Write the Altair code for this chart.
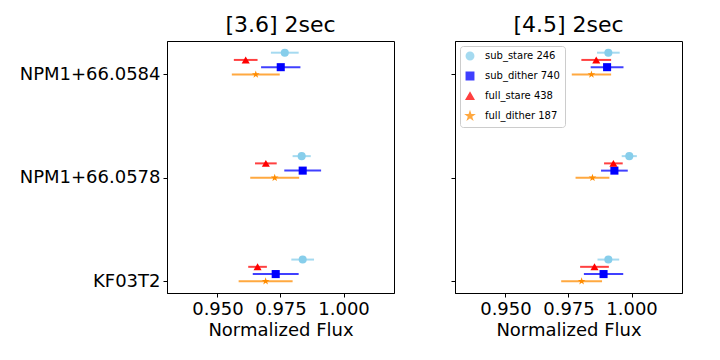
import altair as alt
import pandas as pd

stars = ["KF03T2", "NPM1+66.0578", "NPM1+66.0584"]  # bottom -> top
series = ["full_dither", "sub_dither", "full_stare", "sub_stare"]
counts = {"sub_stare": 246, "sub_dither": 740, "full_stare": 438, "full_dither": 187}
legend_order = ["sub_stare", "sub_dither", "full_stare", "full_dither"]
colors = {"sub_stare": "#87CEEB", "sub_dither": "#0000FF", "full_stare": "#FF0000", "full_dither": "#FF8C00"}
STAR = ("M0,-1L0.225,-0.309L0.951,-0.309L0.363,0.118L0.588,0.809L0,0.382"
        "L-0.588,0.809L-0.363,0.118L-0.951,-0.309L-0.225,-0.309Z")
shapes = {"sub_stare": "circle", "sub_dither": "square", "full_stare": "triangle-up", "full_dither": STAR}

ch1_val = {
    "sub_stare":   [0.9838, 0.9834, 0.9767],
    "full_stare":  [0.9659, 0.9692, 0.9612],
    "sub_dither":  [0.9731, 0.9838, 0.9751],
    "full_dither": [0.9691, 0.9727, 0.9652],
}
ch1_err = {
    "sub_stare":   [0.0045, 0.0036, 0.0055],
    "full_stare":  [0.0037, 0.0043, 0.0047],
    "sub_dither":  [0.0091, 0.0073, 0.0078],
    "full_dither": [0.0107, 0.0097, 0.0095],
}
ch2_val = {
    "sub_stare":   [0.9908, 0.9991, 0.9908],
    "full_stare":  [0.9853, 0.9928, 0.9860],
    "sub_dither":  [0.9889, 0.9932, 0.9903],
    "full_dither": [0.9802, 0.9845, 0.9841],
}
ch2_err = {
    "sub_stare":   [0.0043, 0.0030, 0.0045],
    "full_stare":  [0.0057, 0.0037, 0.0059],
    "sub_dither":  [0.0078, 0.0053, 0.0065],
    "full_dither": [0.0081, 0.0067, 0.0078],
}
dodge = 0.07


def make_df(vals, errs):
    rows = []
    for si, s in enumerate(series):
        for k, st in enumerate(stars):
            v = vals[s][k]
            e = errs[s][k]
            rows.append({
                "star": st, "series": s, "label": f"{s} {counts[s]}",
                "pos": float(k + dodge * si), "flux": float(v),
                "lo": float(v - e), "hi": float(v + e),
            })
    return pd.DataFrame(rows)


label_domain = [f"{s} {counts[s]}" for s in legend_order]
label_expr = "datum.value == 0 ? 'KF03T2' : datum.value == 1 ? 'NPM1+66.0578' : 'NPM1+66.0584'"


def panel(df, title, show_labels, show_legend):
    xscale = alt.Scale(domain=[0.93, 1.02], nice=False, zero=False)
    yscale = alt.Scale(domain=[-0.113, 2.323], nice=False, zero=False)
    cscale = alt.Scale(domain=label_domain, range=[colors[s] for s in legend_order])
    sscale = alt.Scale(domain=label_domain, range=[shapes[s] for s in legend_order])
    if show_legend:
        leg = alt.Legend(title=None, orient="top-left", offset=5)
    else:
        leg = None
    xax = alt.Axis(values=[0.95, 0.975, 1.0], format=".3f")
    yax = alt.Axis(values=[0, 1, 2], labelExpr=label_expr, labels=show_labels)
    bars = alt.Chart(df).mark_rule(strokeWidth=2, opacity=0.75).encode(
        x=alt.X("lo:Q", scale=xscale, axis=xax, title="Normalized Flux"),
        x2="hi:Q",
        y=alt.Y("pos:Q", scale=yscale, axis=yax, title=None),
        color=alt.Color("label:N", scale=cscale, legend=leg),
    )
    pts = alt.Chart(df).mark_point(filled=True, opacity=1, size=65).encode(
        x=alt.X("flux:Q", scale=xscale),
        y=alt.Y("pos:Q", scale=yscale),
        color=alt.Color("label:N", scale=cscale, legend=leg),
        shape=alt.Shape("label:N", scale=sscale, legend=leg),
    )
    return alt.layer(bars, pts).properties(width=227, height=252, title=title)


left = panel(make_df(ch1_val, ch1_err), "[3.6] 2sec", True, False)
right = panel(make_df(ch2_val, ch2_err), "[4.5] 2sec", False, True)

chart = alt.hconcat(left, right, spacing=55).resolve_scale(
    color="independent", shape="independent"
).resolve_legend(
    color="independent", shape="independent"
).configure(
    font="DejaVu Sans", padding={"left": 10, "top": 5, "right": 5, "bottom": 5}
).configure_view(
    stroke="black", strokeWidth=1
).configure_axis(
    grid=False, tickSize=4, labelFontSize=18, titleFontSize=18,
    labelColor="black", titleColor="black", domainColor="black", tickColor="black",
    titleFontWeight="normal", labelPadding=3, titlePadding=3,
).configure_title(
    fontSize=22, fontWeight="normal", color="black"
).configure_legend(
    labelFontSize=10, labelColor="black", strokeColor="#cccccc", fillColor="white",
    padding=5, cornerRadius=3, rowPadding=6, symbolSize=55, labelOffset=10,
)

chart.save("out.html", embed_options={"renderer": "svg", "actions": False})
